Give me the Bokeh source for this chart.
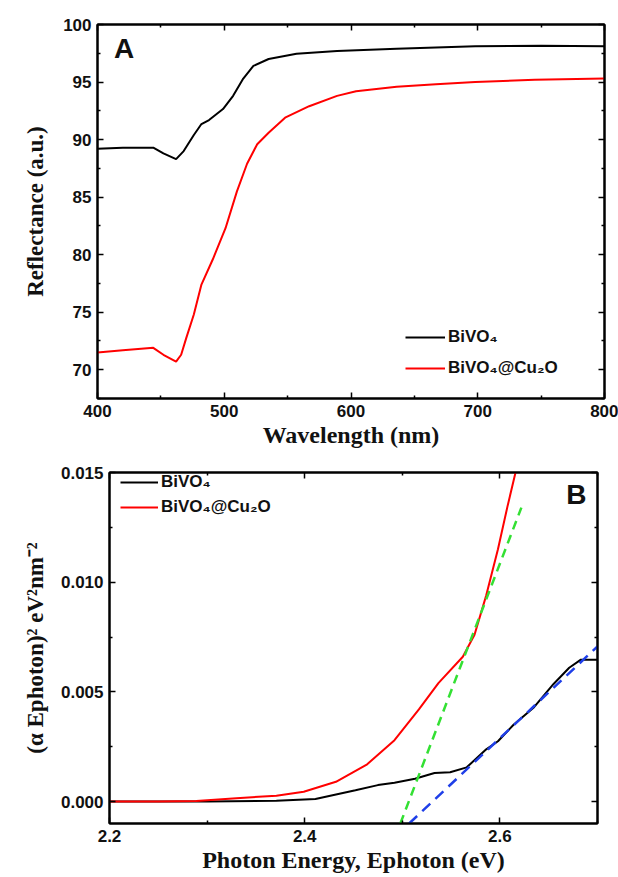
from bokeh.plotting import figure
from bokeh.layouts import column, row
from bokeh.models import Legend, LegendItem, Label, LinearAxis, NumeralTickFormatter, FixedTicker
from bokeh.embed import file_html
from bokeh.resources import INLINE

# ---- Panel A data: reflectance vs wavelength ----
wl_bivo4 = [400, 420, 444, 452, 462, 468, 476, 482, 488, 499, 507, 515, 523, 535, 557, 589, 636, 698, 750, 800]
r_bivo4 = [89.2, 89.3, 89.3, 88.8, 88.3, 89.0, 90.4, 91.35, 91.7, 92.65, 93.8, 95.3, 96.4, 97.0, 97.45, 97.7, 97.9, 98.1, 98.15, 98.1]
wl_cu2o = [400, 420, 444, 452, 462, 466, 470, 476, 482, 491, 501, 510, 518, 526, 535, 548, 567, 589, 604, 636, 667, 698, 745, 800]
r_cu2o = [71.5, 71.7, 71.9, 71.3, 70.7, 71.3, 72.75, 74.8, 77.4, 79.6, 82.3, 85.5, 87.9, 89.6, 90.6, 91.9, 92.9, 93.8, 94.2, 94.6, 94.8, 95.0, 95.2, 95.3]

# ---- Panel B data: Tauc plot ----
e_bivo4 = [2.20, 2.30, 2.371, 2.411, 2.452, 2.475, 2.492, 2.513, 2.533, 2.549, 2.566, 2.586, 2.598, 2.614, 2.635, 2.655, 2.671, 2.683, 2.70]
t_bivo4 = [0.0, 0.0, 0.00004, 0.00012, 0.00052, 0.00075, 0.00086, 0.00104, 0.0013, 0.00134, 0.00156, 0.00238, 0.00275, 0.0035, 0.0043, 0.00536, 0.0061, 0.00647, 0.00647]
e_cu2o = [2.20, 2.25, 2.289, 2.33, 2.371, 2.399, 2.432, 2.464, 2.492, 2.517, 2.537, 2.562, 2.574, 2.586, 2.598, 2.608, 2.616]
t_cu2o = [0.0, 0.0, 0.00003, 0.00015, 0.00027, 0.00045, 0.0009, 0.0017, 0.0028, 0.0042, 0.0054, 0.0066, 0.0076, 0.0094, 0.0115, 0.0135, 0.015]
fit_green_x = [2.498, 2.622]
fit_green_y = [-0.001, 0.0134]
fit_blue_x = [2.507, 2.70]
fit_blue_y = [-0.001, 0.00707]

labels = ["BiVO\u2084", "BiVO\u2084@Cu\u2082O"]

TICK_FONT = "Liberation Sans"
AX_FONT = "Liberation Serif"


def style(p, xmaj, xmin, ymaj, ymin):
    p.outline_line_color = "black"
    p.outline_line_width = 2
    p.grid.visible = False
    p.background_fill_color = "white"
    xb = p.xaxis[0]
    yl = p.yaxis[0]
    for ax in (xb, yl):
        ax.axis_line_width = 2
        ax.major_tick_in = 6
        ax.major_tick_out = 0
        ax.minor_tick_in = 3
        ax.minor_tick_out = 0
        ax.major_tick_line_width = 1.5
        ax.minor_tick_line_width = 1.5
        ax.major_label_text_font = TICK_FONT
        ax.major_label_text_font_style = "bold"
        ax.major_label_text_font_size = "17px"
        ax.major_label_text_color = "#111111"
        ax.major_label_standoff = 6
        ax.axis_label_text_font = AX_FONT
        ax.axis_label_text_font_style = "bold"
        ax.axis_label_text_color = "#111111"
    xb.ticker = FixedTicker(ticks=xmaj, minor_ticks=xmin)
    yl.ticker = FixedTicker(ticks=ymaj, minor_ticks=ymin)
    # top / right mirror axes with ticks only
    top = LinearAxis(ticker=FixedTicker(ticks=xmaj, minor_ticks=xmin), major_label_text_alpha=0,
                     major_tick_in=6, major_tick_out=0, minor_tick_in=3, minor_tick_out=0,
                     axis_line_width=2, major_tick_line_width=1.5, minor_tick_line_width=1.5,
                     major_label_text_font_size="1px", major_label_standoff=0)
    right = LinearAxis(ticker=FixedTicker(ticks=ymaj, minor_ticks=ymin), major_label_text_alpha=0,
                       major_tick_in=6, major_tick_out=0, minor_tick_in=3, minor_tick_out=0,
                       axis_line_width=2, major_tick_line_width=1.5, minor_tick_line_width=1.5,
                       major_label_text_font_size="1px", major_label_standoff=0)
    p.add_layout(top, "above")
    p.add_layout(right, "right")
    return xb, yl


# ---------------- Panel A ----------------
pa = figure(width=618, height=450, x_range=(400, 800), y_range=(67.5, 100),
            output_backend="svg", toolbar_location=None,
            min_border_left=97, min_border_right=14, min_border_top=24, min_border_bottom=50)
xa, ya = style(pa, [400, 500, 600, 700, 800], [450, 550, 650, 750],
               [70, 75, 80, 85, 90, 95, 100], [67.5, 72.5, 77.5, 82.5, 87.5, 92.5, 97.5])
xa.axis_label = "Wavelength (nm)"
xa.axis_label_text_font_size = "24px"
xa.axis_label_standoff = 2
ya.axis_label = "Reflectance (a.u.)"
ya.axis_label_text_font_size = "23px"
ya.axis_label_standoff = 12

la1 = pa.line(wl_bivo4, r_bivo4, line_color="black", line_width=2)
la2 = pa.line(wl_cu2o, r_cu2o, line_color="#ff0000", line_width=2)
leg_a = Legend(items=[LegendItem(label=labels[0], renderers=[la1]),
                      LegendItem(label=labels[1], renderers=[la2])],
               location=(306, 18), border_line_alpha=0, background_fill_alpha=0,
               padding=2, margin=0, spacing=11, glyph_width=40, glyph_height=20,
               label_height=20, label_standoff=3,
               label_text_font=TICK_FONT, label_text_font_style="bold",
               label_text_font_size="17px", label_text_color="#111111")
pa.add_layout(leg_a)
pa.add_layout(Label(x=413, y=99.3, text="A", text_font=TICK_FONT, text_font_style="bold",
                    text_font_size="28px", text_baseline="top", text_color="#111111"))

# ---------------- Panel B ----------------
pb = figure(width=618, height=427, x_range=(2.2, 2.7), y_range=(-0.001, 0.015),
            output_backend="svg", toolbar_location=None,
            min_border_left=109, min_border_right=21, min_border_top=22, min_border_bottom=54)
xb, yb = style(pb, [2.2, 2.4, 2.6], [2.3, 2.5, 2.7],
               [0.0, 0.005, 0.010, 0.015], [-0.0025, 0.0025, 0.0075, 0.0125])
yb.formatter = NumeralTickFormatter(format="0.000")
xb.axis_label = "Photon Energy, Ephoton (eV)"
xb.axis_label_text_font_size = "24px"
xb.axis_label_standoff = 2
yb.axis_label = "(\u03b1 Ephoton)\u00b2 eV\u00b2nm\u207b\u00b2"
yb.axis_label_text_font_size = "23px"
yb.axis_label_standoff = 10

lb1 = pb.line(e_bivo4, t_bivo4, line_color="black", line_width=2)
lb2 = pb.line(e_cu2o, t_cu2o, line_color="#ff0000", line_width=2)
pb.line(fit_green_x, fit_green_y, line_color="#33e033", line_width=2.5, line_dash="9 6")
pb.line(fit_blue_x, fit_blue_y, line_color="#1f3fe8", line_width=2.5, line_dash="11 7")
leg_b = Legend(items=[LegendItem(label=labels[0], renderers=[lb1]),
                      LegendItem(label=labels[1], renderers=[lb2])],
               location=(9, 304), border_line_alpha=0, background_fill_alpha=0,
               padding=2, margin=0, spacing=5, glyph_width=38, glyph_height=20,
               label_height=20, label_standoff=3,
               label_text_font=TICK_FONT, label_text_font_style="bold",
               label_text_font_size="17px", label_text_color="#111111")
pb.add_layout(leg_b)
pb.add_layout(Label(x=2.668, y=0.0147, text="B", text_font=TICK_FONT, text_font_style="bold",
                    text_font_size="28px", text_baseline="top", text_color="#111111"))

layout = column(row(pa), row(pb), spacing=0)
open("out.html", "w").write(file_html(layout, INLINE))
